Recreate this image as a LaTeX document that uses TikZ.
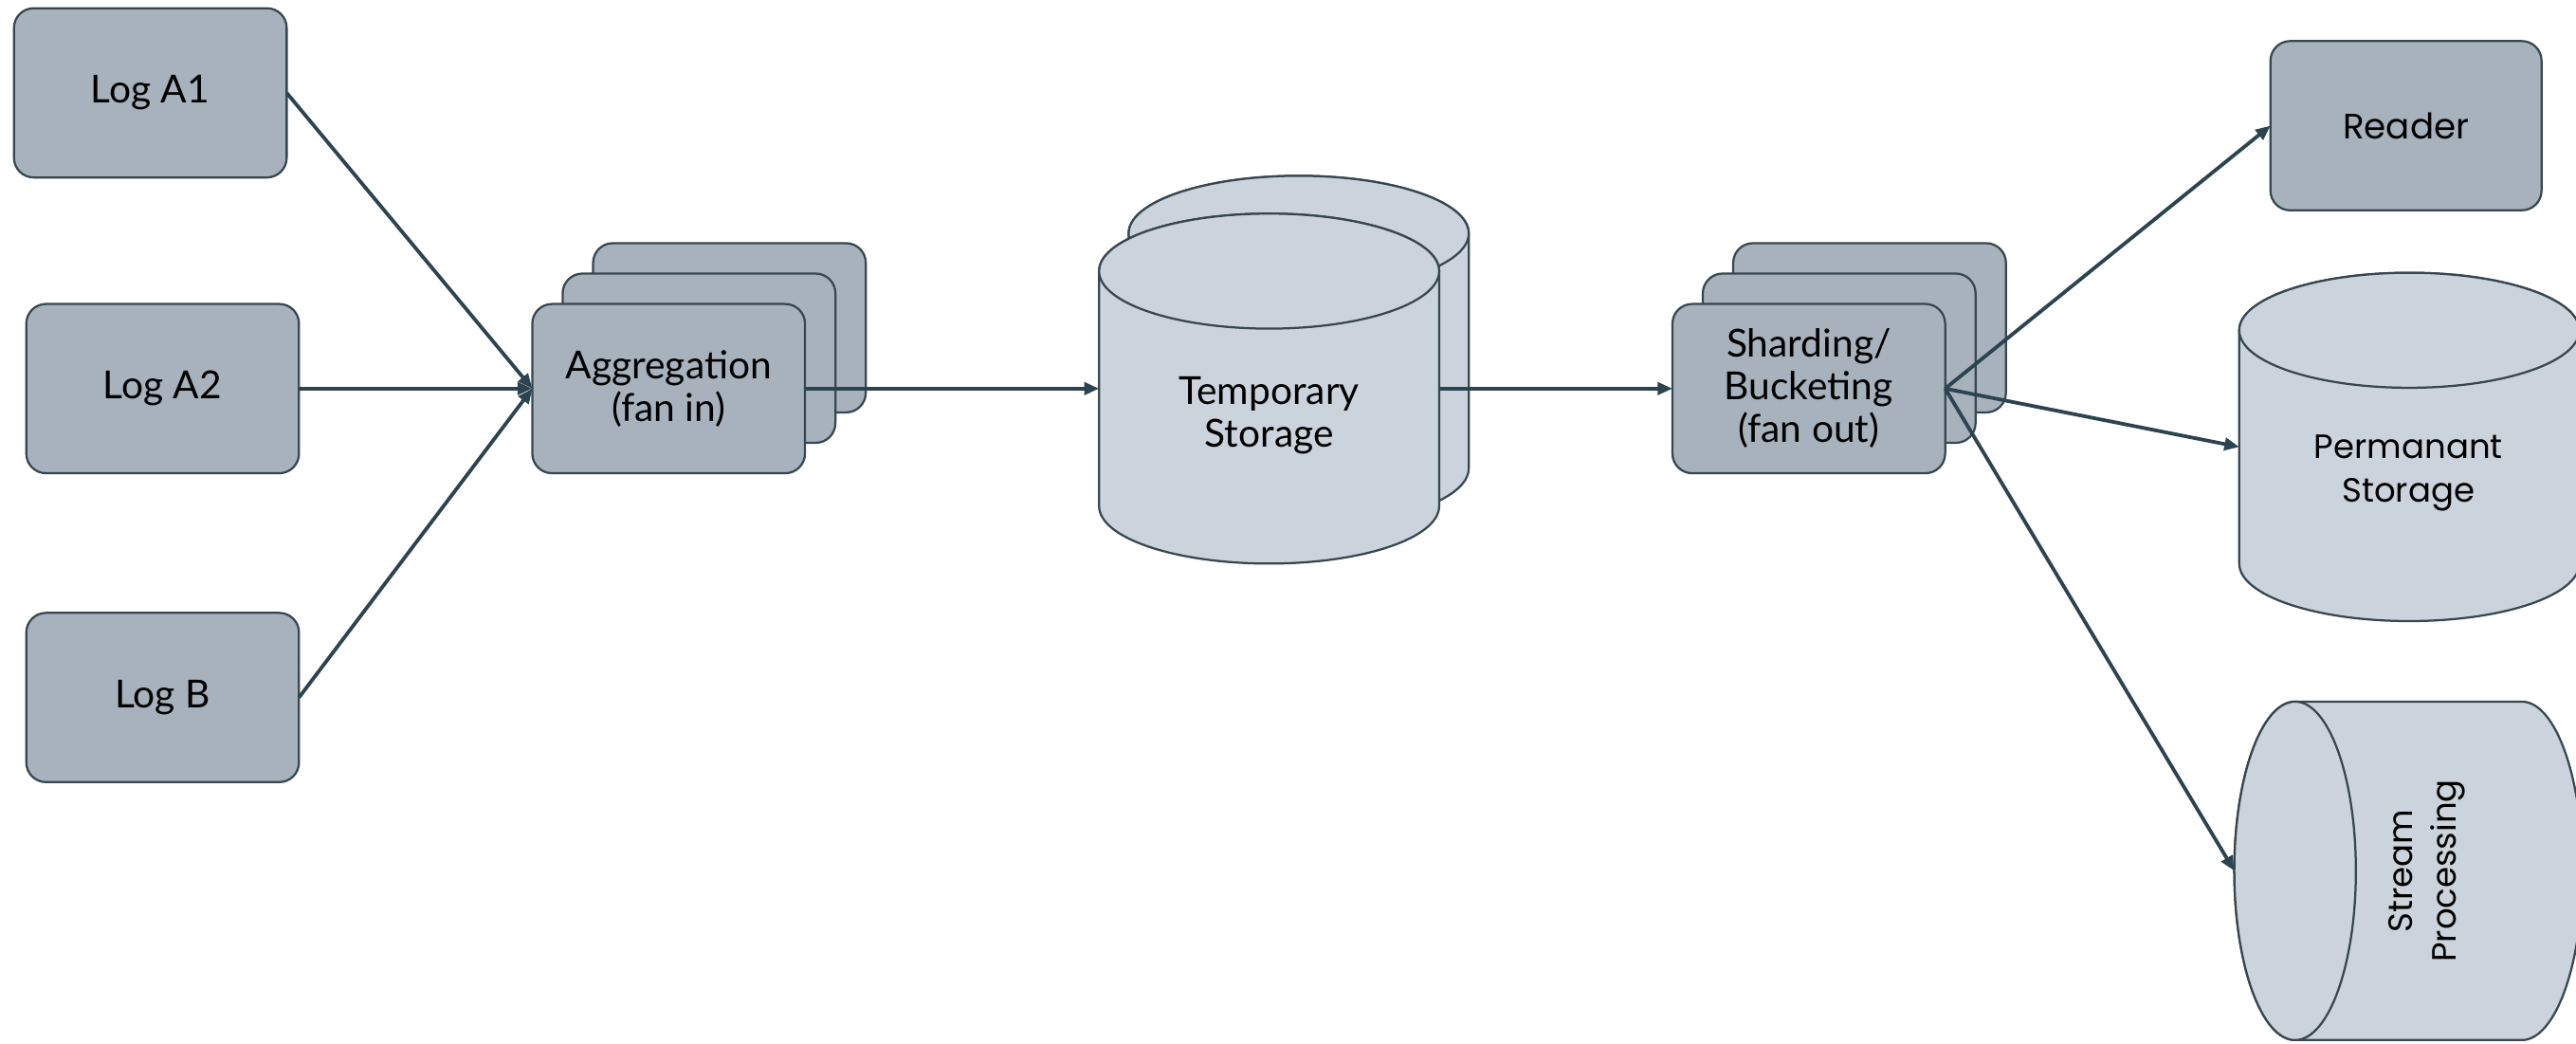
\documentclass[tikz,border=0pt]{standalone}
\usepackage{fontspec}
\setmainfont{Lato}
\newfontfamily\wideface{Poppins}
\usetikzlibrary{arrows.meta}
\definecolor{boxfill}{HTML}{A7B2BD}
\definecolor{cylfill}{HTML}{CBD3DC}
\definecolor{edgec}{HTML}{37474F}
\definecolor{arrowc}{HTML}{2C4350}
\begin{document}
\begin{tikzpicture}[x=1pt,y=-1pt,
  rbox/.style={draw=edgec, fill=boxfill, line width=1.3pt, rounded corners=12pt,
    minimum width=166pt, minimum height=103pt, inner sep=0pt, outer sep=0pt,
    align=center, font=\fontsize{23.5}{26}\selectfont},
  cyl/.style={draw=edgec, fill=cylfill, line width=1.3pt},
  holder/.style={inner sep=0pt, outer sep=0pt},
  txt/.style={align=center, inner sep=0pt, font=\fontsize{23.5}{26}\selectfont},
  widetxt/.style={align=center, inner sep=0pt, font=\wideface\fontsize{20.5}{26.5}\selectfont},
  arr/.style={draw=arrowc, line width=2.2pt, -{Triangle[length=9pt,width=7.5pt]}}]
\useasboundingbox (0,0) rectangle (1568,635);

% left logs
\node[rbox] (logA1) at (91.5,56.5) {Log A1};
\node[rbox] (logA2) at (99,236.5) {Log A2};
\node[rbox] (logB) at (99,424.5) {Log B};

% aggregation stack
\node[rbox] (aggC) at (444,199.5) {};
\node[rbox] (aggB) at (425.5,218) {};
\node[rbox] (agg) at (407,236.5) {Aggregation\\(fan in)};

% temporary storage (two cylinders)
\filldraw[cyl] (687,142) -- (687,285) arc[start angle=180,end angle=0,x radius=103.5,y radius=35]
  -- (894,142) arc[start angle=0,end angle=-180,x radius=103.5,y radius=35] -- cycle;
\draw[cyl] (790.5,142) ellipse[x radius=103.5, y radius=35];
\filldraw[cyl] (669,165) -- (669,308) arc[start angle=180,end angle=0,x radius=103.5,y radius=35]
  -- (876,165) arc[start angle=0,end angle=-180,x radius=103.5,y radius=35] -- cycle;
\draw[cyl] (772.5,165) ellipse[x radius=103.5, y radius=35];
\node[holder, minimum width=207pt, minimum height=143pt] (temp) at (772.5,236.5) {};
\node[txt] (temptext) at (772.5,253) {Temporary\\Storage};

% sharding stack
\node[rbox] (shC) at (1138,199.5) {};
\node[rbox] (shB) at (1119.5,218) {};
\node[rbox] (shard) at (1101,236.5) {Sharding/\\Bucketing\\(fan out)};

% reader
\node[rbox, minimum width=165pt, font=\wideface\fontsize{21.5}{26}\selectfont] (reader) at (1464.5,76.5) {Reader};

% permanent storage
\filldraw[cyl] (1363,201) -- (1363,343) arc[start angle=180,end angle=0,x radius=103.5,y radius=35]
  -- (1570,201) arc[start angle=0,end angle=-180,x radius=103.5,y radius=35] -- cycle;
\draw[cyl] (1466.5,201) ellipse[x radius=103.5, y radius=35];
\node[holder, minimum width=207pt, minimum height=142pt] (perm) at (1466.5,272) {};
\node[widetxt] (permtext) at (1466,288) {Permanant\\Storage};

% stream processing (horizontal cylinder)
\filldraw[cyl] (1397,427) -- (1535,427) arc[start angle=-90,end angle=90,x radius=37,y radius=103]
  -- (1397,633) arc[start angle=90,end angle=270,x radius=37,y radius=103] -- cycle;
\draw[cyl] (1397,530) ellipse[x radius=37, y radius=103];
\node[holder, minimum width=212pt, minimum height=206pt] (stream) at (1466,530) {};
\node[widetxt, rotate=90] (streamtext) at (1477,530) {Stream\\Processing};

% connectors
\draw[arr] (logA1.east) -- (agg.west);
\draw[arr] (logA2.east) -- (agg.west);
\draw[arr] (logB.east) -- (agg.west);
\draw[arr] (agg.east) -- (temp.west);
\draw[arr] (temp.east) -- (shard.west);
\draw[arr] (shard.east) -- (reader.west);
\draw[arr] (shard.east) -- (perm.west);
\draw[arr] (shard.east) -- (stream.west);
\end{tikzpicture}
\end{document}
